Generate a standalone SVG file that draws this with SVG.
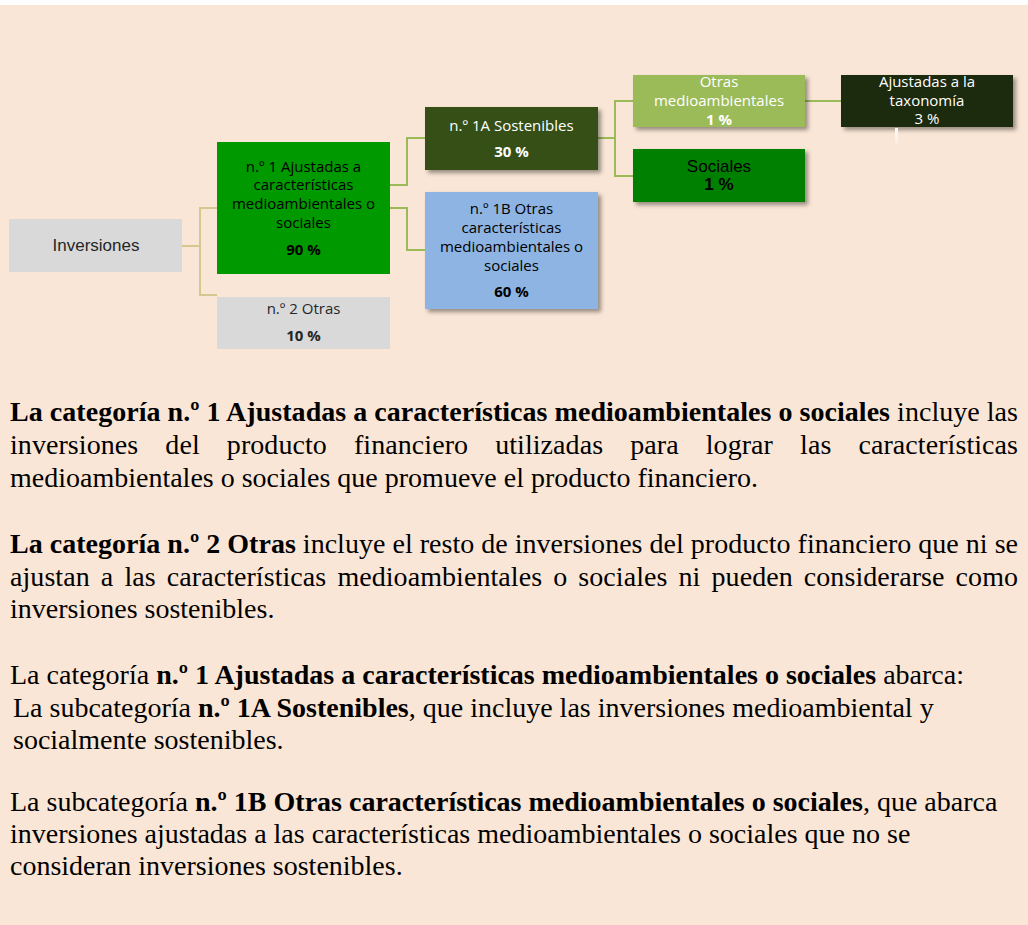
<svg xmlns="http://www.w3.org/2000/svg" width="1028" height="925" viewBox="0 0 1028 925">
<defs>
<filter id="sh" x="-10%" y="-10%" width="130%" height="140%">
<feDropShadow dx="3" dy="3" stdDeviation="2" flood-color="#000" flood-opacity="0.4"/>
</filter>
<linearGradient id="fade" x1="0" y1="0" x2="0" y2="1">
<stop offset="0" stop-color="#fff" stop-opacity="1"/>
<stop offset="1" stop-color="#fff" stop-opacity="0.2"/>
</linearGradient>
</defs>
<style>
.os{font-family:"Open Sans","DejaVu Sans",sans-serif;font-size:15px;text-anchor:middle}
.ls{font-family:"Liberation Sans",Arial,sans-serif;font-size:17px;text-anchor:middle}
.b{font-weight:bold}
.w{fill:#fff}
.k{fill:#000}
.g{fill:#262626}
.p{font-family:"Liberation Serif","Times New Roman",serif;font-size:28px;fill:#000}
.conn{fill:none;stroke-width:2}
.tan{stroke:#D5C88E}
.grn{stroke:#9BBB59}
</style>
<rect x="0" y="0" width="1028" height="925" fill="#fff"/>
<rect x="0" y="5" width="1028" height="920" fill="#FAE6D6"/>

<g id="connectors">
<polyline class="conn tan" points="182,246 200,246"/>
<polyline class="conn tan" points="217,208 200,208 200,295 217,295"/>
<polyline class="conn grn" points="390,185 407,185 407,138 425,138"/>
<polyline class="conn grn" points="390,208 407,208 407,250 425,250"/>
<polyline class="conn grn" points="598,138 615,138"/>
<polyline class="conn grn" points="633,101 615,101 615,176 633,176"/>
<polyline class="conn grn" points="805,101 841,101"/>
</g>

<g id="inversiones">
<rect x="9" y="219" width="173" height="53" fill="#D9D9D9"/>
<text class="ls g" x="96" y="251">Inversiones</text>
</g>

<g id="n1">
<rect x="217" y="142" width="173" height="132" fill="#009900"/>
<text class="os k" x="303.5" y="172">n.º 1 Ajustadas a</text>
<text class="os k" x="303.5" y="190">características</text>
<text class="os k" x="303.5" y="209">medioambientales o</text>
<text class="os k" x="303.5" y="228">sociales</text>
<text class="os k b" x="303.5" y="255">90 %</text>
</g>

<g id="n2">
<rect x="217" y="297" width="173" height="52" fill="#D9D9D9"/>
<text class="os g" x="303.5" y="314">n.º 2 Otras</text>
<text class="os g b" x="303.5" y="341">10 %</text>
</g>

<g id="n1a">
<rect x="425" y="107" width="173" height="63" fill="#344F14" filter="url(#sh)"/>
<text class="os w" x="511.5" y="131">n.º 1A Sostenibles</text>
<text class="os w b" x="511.5" y="157">30 %</text>
</g>

<g id="n1b">
<rect x="425" y="192" width="173" height="117" fill="#8DB4E2" filter="url(#sh)"/>
<text class="os k" x="511.5" y="214">n.º 1B Otras</text>
<text class="os k" x="511.5" y="233">características</text>
<text class="os k" x="511.5" y="252">medioambientales o</text>
<text class="os k" x="511.5" y="271">sociales</text>
<text class="os k b" x="511.5" y="297">60 %</text>
</g>

<g id="otras-medio">
<rect x="633" y="75" width="172" height="52" fill="#9BBB59" filter="url(#sh)"/>
<text class="os w" x="719" y="87">Otras</text>
<text class="os w" x="719" y="106">medioambientales</text>
<text class="os w b" x="719" y="125">1 %</text>
</g>

<g id="sociales">
<rect x="633" y="149" width="172" height="53" fill="#008000" filter="url(#sh)"/>
<text class="ls k" x="719" y="172">Sociales</text>
<text class="ls k b" x="719" y="190">1 %</text>
</g>

<g id="taxonomia">
<rect x="841" y="75" width="172" height="52" fill="#1F2C08" filter="url(#sh)"/>
<text class="os w" x="927" y="87">Ajustadas a la</text>
<text class="os w" x="927" y="106">taxonomía</text>
<text class="os w" x="927" y="124">3 %</text>
<rect x="895" y="128" width="3" height="16" fill="url(#fade)"/>
</g>

<g id="texto">
<text class="p" x="10" y="421" textLength="1008" lengthAdjust="spacing"><tspan font-weight="bold">La categoría n.º 1 Ajustadas a características medioambientales o sociales</tspan> incluye las</text>
<text class="p" x="10" y="454" word-spacing="20" textLength="1008" lengthAdjust="spacing">inversiones del producto financiero utilizadas para lograr las características</text>
<text class="p" x="10" y="487">medioambientales o sociales que promueve el producto financiero.</text>

<text class="p" x="10" y="553" textLength="1008" lengthAdjust="spacing"><tspan font-weight="bold">La categoría n.º 2 Otras</tspan> incluye el resto de inversiones del producto financiero que ni se</text>
<text class="p" x="10" y="586" word-spacing="4" textLength="1008" lengthAdjust="spacing">ajustan a las características medioambientales o sociales ni pueden considerarse como</text>
<text class="p" x="10" y="618">inversiones sostenibles.</text>

<text class="p" x="10" y="684">La categoría <tspan font-weight="bold">n.º 1 Ajustadas a características medioambientales o sociales</tspan> abarca:</text>
<text class="p" x="13" y="717">La subcategoría <tspan font-weight="bold">n.º 1A Sostenibles</tspan>, que incluye las inversiones medioambiental y</text>
<text class="p" x="13" y="749">socialmente sostenibles.</text>

<text class="p" x="10" y="811">La subcategoría <tspan font-weight="bold">n.º 1B Otras características medioambientales o sociales</tspan>, que abarca</text>
<text class="p" x="10" y="843">inversiones ajustadas a las características medioambientales o sociales que no se</text>
<text class="p" x="10" y="875">consideran inversiones sostenibles.</text>
</g>
</svg>
